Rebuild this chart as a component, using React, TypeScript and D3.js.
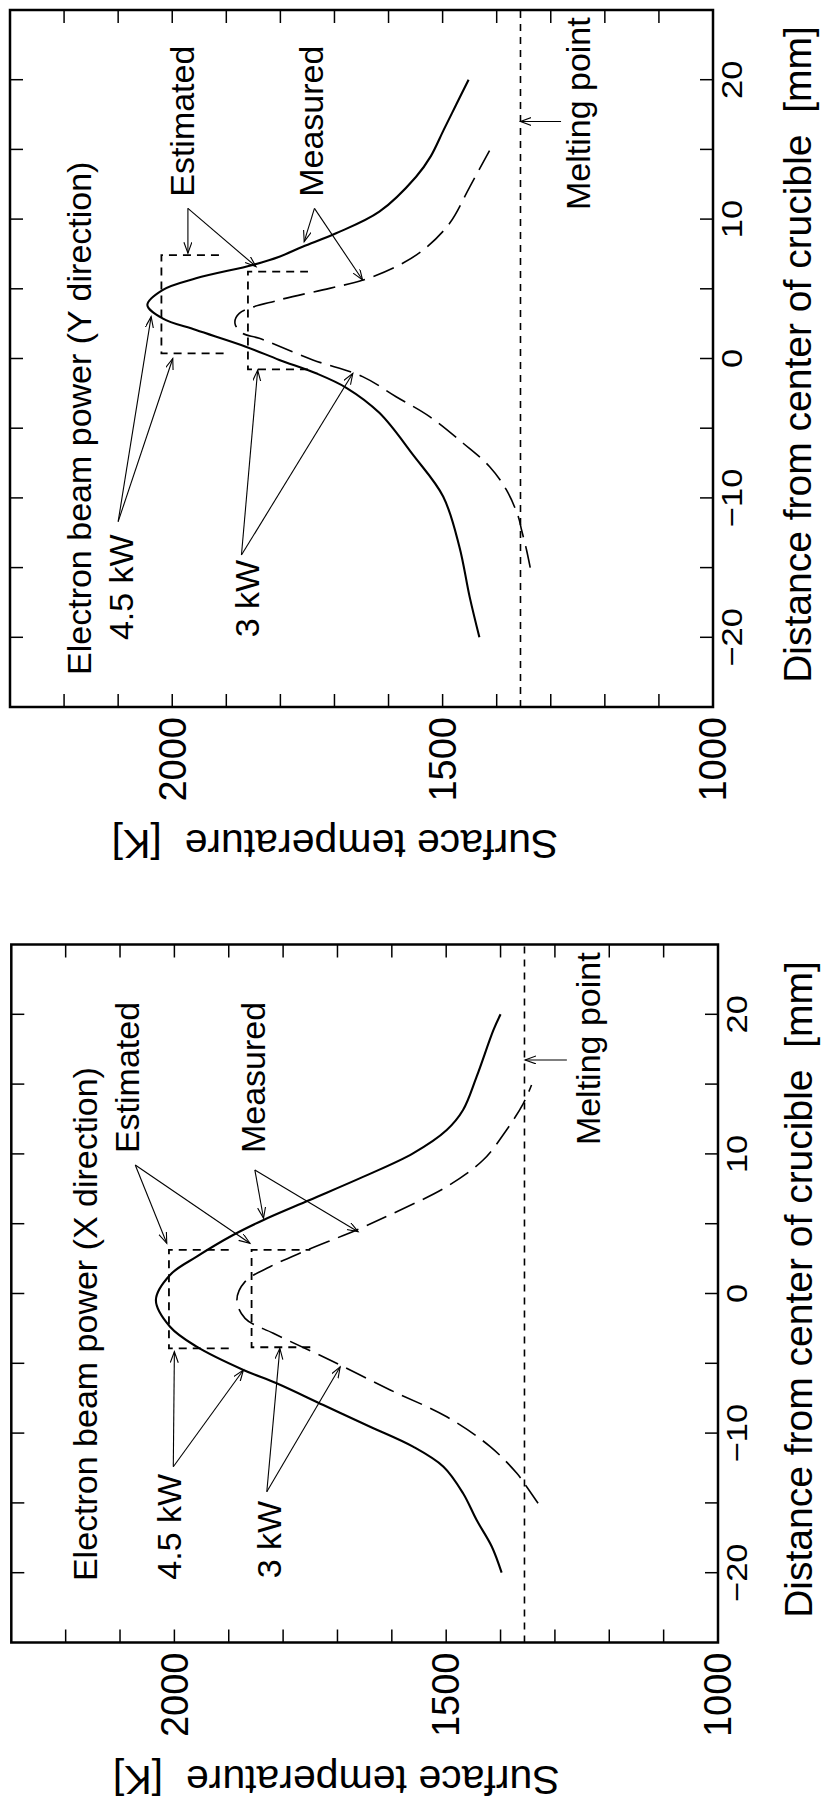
import React from 'react';
import * as d3 from 'd3';

// axis ticks (distance in mm, temperature in K)
const mmTicks = [-20, -15, -10, -5, 0, 5, 10, 15, 20];
const mmLabels = [-20, -10, 0, 10, 20];
const tempTicks = [1100, 1200, 1300, 1400, 1500, 1600, 1700, 1800, 1900, 2000, 2100, 2200];
const tempLabels = [1000, 1500, 2000];
const meltingPoint = 1356;

// Y direction panel: [mm, K]
const ySolid45 = [
  [-20, 1432], [-17.1, 1450], [-13.5, 1469], [-9.9, 1499], [-6.9, 1555], [-3.9, 1617],
  [-2.1, 1678], [-1.06, 1734], [-0.1, 1802], [0.85, 1864], [2.04, 1956], [2.88, 2018],
  [3.84, 2046], [4.91, 2018], [5.75, 1956], [6.71, 1851], [7.3, 1802], [8.02, 1759],
  [8.98, 1697], [10.53, 1617], [13.04, 1549], [14.5, 1522], [16.4, 1498], [18.2, 1475],
  [20, 1452],
];
const yDashed3 = [
  [-15.0, 1338], [-13.7, 1345], [-12.3, 1354], [-11.35, 1360], [-9.43, 1382], [-7.76, 1413],
  [-6.08, 1462], [-4.17, 1524], [-2.74, 1586], [-1.3, 1648], [-0.1, 1740], [1.45, 1839],
  [1.81, 1870], [2.52, 1884], [3.24, 1876], [4.2, 1802], [5.03, 1709], [5.63, 1647],
  [6.59, 1586], [7.78, 1536], [9.7, 1487], [12.3, 1450], [15.0, 1412],
];
const yEst45 = [[0.37, 1905], [0.37, 2020], [7.42, 2020], [7.42, 1905]];
const yEst3 = [[-0.78, 1749], [-0.78, 1860], [6.23, 1860], [6.23, 1749]];
const yLabels = [
  { text: 'Electron beam power (Y direction)', mm: -22.7, k: 2150 },
  { text: '4.5 kW', mm: -20.2, k: 2072 },
  { text: '3 kW', mm: -20.0, k: 1839 },
  { text: 'Estimated', mm: 11.6, k: 1959 },
  { text: 'Measured', mm: 11.6, k: 1722 },
  { text: 'Melting point', mm: 10.65, k: 1228 },
];
const yArrows = [
  [[-11.7, 2100], [3.0, 2039]], [[-11.7, 2100], [0.0, 1999]],
  [[-14.1, 1872], [-0.83, 1842]], [[-14.1, 1872], [-1.06, 1666]],
  [[10.77, 1971], [7.55, 1971]], [[10.77, 1971], [6.59, 1845]],
  [[10.77, 1737], [8.38, 1756]], [[10.77, 1737], [5.63, 1648]],
  [[17.0, 1281], [17.0, 1356]],
];

// X direction panel: [mm, K]
const xSolid45 = [
  [-20, 1398], [-18.14, 1416], [-16.23, 1444], [-14.31, 1469], [-12.41, 1505], [-10.97, 1561],
  [-9.54, 1640], [-7.99, 1726], [-6.43, 1812], [-5.48, 1873], [-3.81, 1959], [-2.38, 2008],
  [-0.47, 2034], [1.33, 2008], [2.64, 1959], [4.19, 1892], [5.27, 1836], [6.7, 1751],
  [8.37, 1652], [10.04, 1561], [11.71, 1499], [13.14, 1469], [15.53, 1444], [18.88, 1413],
  [20, 1400],
];
const xDashed3 = [
  [-15.03, 1331], [-13.84, 1352], [-12.88, 1370], [-10.97, 1419], [-8.83, 1499], [-6.91, 1603],
  [-4.76, 1714], [-2.85, 1818], [-1.78, 1870], [-0.47, 1885], [0.85, 1870], [1.92, 1824],
  [2.99, 1763], [4.55, 1665], [5.86, 1591], [7.65, 1499], [9.56, 1432], [11.71, 1389],
  [13.62, 1358], [14.94, 1343],
];
const xEst45 = [[-3.93, 1900], [-3.93, 2010], [3.12, 2010], [3.12, 1900]];
const xEst3 = [[-3.85, 1750], [-3.85, 1858], [3.12, 1858], [3.12, 1750]];
const xLabels = [
  { text: 'Electron beam power (X direction)', mm: -20.6, k: 2142 },
  { text: '4.5 kW', mm: -20.5, k: 1987 },
  { text: '3 kW', mm: -20.4, k: 1803 },
  { text: 'Estimated', mm: 10.06, k: 2065 },
  { text: 'Measured', mm: 10.06, k: 1833 },
  { text: 'Melting point', mm: 10.63, k: 1217 },
];
const xArrows = [
  [[-12.41, 2002], [-4.17, 2000]], [[-12.41, 2002], [-5.48, 1873]],
  [[-14.2, 1830], [-3.93, 1806]], [[-14.2, 1830], [-5.25, 1695]],
  [[9.2, 2072], [3.6, 2014]], [[9.2, 2072], [3.6, 1861]],
  [[8.85, 1852], [5.39, 1836]], [[8.85, 1852], [4.43, 1662]],
  [[16.73, 1278], [16.73, 1355]],
];

const FONT = '"Liberation Sans", Arial, Helvetica, sans-serif';
const fmt = (t: number) => (t < 0 ? `\u2212${-t}` : `${t}`);

type Pt = number[];

function Panel(props: {
  tx: number; ty: number; W: number; H: number; id: string; titleGap: number;
  solid: Pt[]; dashed: Pt[]; est45: Pt[]; est3: Pt[];
  labels: { text: string; mm: number; k: number }[]; arrows: Pt[][];
}) {
  const { tx, ty, W, H, id } = props;
  const x = d3.scaleLinear().domain([-25, 25]).range([0, W]);
  const y = d3.scaleLinear().domain([1000, 2300]).range([H, 0]);
  const curve = d3.line<Pt>().x((d) => x(d[0])).y((d) => y(d[1])).curve(d3.curveCatmullRom.alpha(0.5));
  const poly = d3.line<Pt>().x((d) => x(d[0])).y((d) => y(d[1]));
  const tick = 13;

  // the whole panel is drawn upright and then turned a quarter to the left
  return (
    <g transform={`translate(${tx},${ty}) rotate(-90)`} fontFamily={FONT} fill="#000">
      <defs>
        <marker id={`arrow-${id}`} markerUnits="userSpaceOnUse" markerWidth={14} markerHeight={10}
          refX={11} refY={4} orient="auto">
          <path d="M0,0 L11,4 L0,8" fill="none" stroke="#000" strokeWidth={1.1} />
        </marker>
      </defs>

      {/* ticks on all four sides, pointing inward */}
      {mmTicks.map((t) => (
        <g key={`mt-${t}`} stroke="#000" strokeWidth={1.5}>
          <line x1={x(t)} x2={x(t)} y1={H} y2={H - tick} />
          <line x1={x(t)} x2={x(t)} y1={0} y2={tick} />
        </g>
      ))}
      {tempTicks.map((t) => (
        <g key={`tt-${t}`} stroke="#000" strokeWidth={1.5}>
          <line x1={0} x2={tick} y1={y(t)} y2={y(t)} />
          <line x1={W} x2={W - tick} y1={y(t)} y2={y(t)} />
        </g>
      ))}
      <rect x={0} y={0} width={W} height={H} fill="none" stroke="#000" strokeWidth={2.5} />

      {mmLabels.map((t) => (
        <text key={`ml-${t}`} transform={`translate(${x(t)},${H + 29}) scale(1.15,1)`}
          textAnchor="middle" fontSize={30}>{fmt(t)}</text>
      ))}
      {tempLabels.map((t) => (
        <text key={`tl-${t}`} x={-10} y={y(t)} dy="0.35em" textAnchor="end" fontSize={38}>{t}</text>
      ))}
      <text x={W / 2 + 4} y={H + props.titleGap} textAnchor="middle" fontSize={39} style={{ whiteSpace: 'pre' }}>
        {'Distance from center of crucible  [mm]'}
      </text>
      <text transform={`translate(-123,325) rotate(-90)`} textAnchor="middle" fontSize={41}
        style={{ whiteSpace: 'pre' }}>
        {'Surface temperature  [K]'}
      </text>

      {/* melting point */}
      <line x1={0} x2={W} y1={y(meltingPoint)} y2={y(meltingPoint)} stroke="#000"
        strokeWidth={1.6} strokeDasharray="7 6" />

      {/* estimated distributions */}
      <path d={poly(props.est45) || ''} fill="none" stroke="#000" strokeWidth={1.8} strokeDasharray="8 6" />
      <path d={poly(props.est3) || ''} fill="none" stroke="#000" strokeWidth={1.8} strokeDasharray="8 6" />

      {/* measured */}
      <path d={curve(props.solid) || ''} fill="none" stroke="#000" strokeWidth={2.1} />
      <path d={curve(props.dashed) || ''} fill="none" stroke="#000" strokeWidth={1.6} strokeDasharray="22 9" />

      {props.arrows.map((a, i) => (
        <line key={`ar-${i}`} x1={x(a[0][0])} y1={y(a[0][1])} x2={x(a[1][0])} y2={y(a[1][1])}
          stroke="#000" strokeWidth={1.1} markerEnd={`url(#arrow-${id})`} />
      ))}
      {props.labels.map((l) => (
        <text key={l.text} x={x(l.mm)} y={y(l.k)} fontSize={34}>{l.text}</text>
      ))}
    </g>
  );
}

export default function App() {
  return (
    <svg width={822} height={1810} style={{ position: 'absolute', left: 0, top: 0, background: '#fff' }}>
      <rect x={0} y={0} width={822} height={1810} fill="#fff" />
      <Panel id="y" tx={10} ty={707} W={697} H={703} titleGap={98}
        solid={ySolid45} dashed={yDashed3} est45={yEst45} est3={yEst3}
        labels={yLabels} arrows={yArrows} />
      <Panel id="x" tx={11.3} ty={1642.5} W={698} H={706.7} titleGap={94}
        solid={xSolid45} dashed={xDashed3} est45={xEst45} est3={xEst3}
        labels={xLabels} arrows={xArrows} />
    </svg>
  );
}
